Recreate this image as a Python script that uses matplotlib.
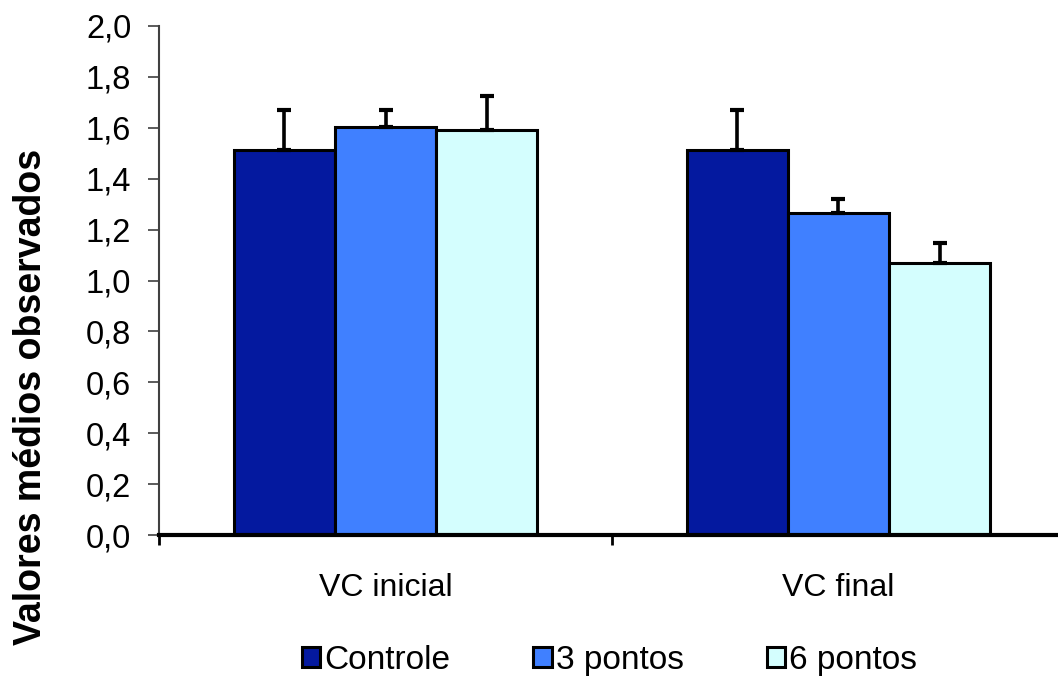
import matplotlib
matplotlib.use("Agg")
import matplotlib.pyplot as plt
import numpy as np

# data
categorias = ["VC inicial", "VC final"]
grupos = ["Controle", "3 pontos", "6 pontos"]
medias = {
    "Controle": [1.513, 1.513],
    "3 pontos": [1.603, 1.266],
    "6 pontos": [1.591, 1.070],
}
erros = {
    "Controle": [0.155, 0.155],
    "3 pontos": [0.067, 0.054],
    "6 pontos": [0.134, 0.076],
}
cores = ["#04199F", "#4080FF", "#D4FEFE"]

plt.rcParams['font.family'] = ['Liberation Sans', 'DejaVu Sans']

fig = plt.figure(figsize=(10.58, 6.77), dpi=100)
ax = fig.add_axes([0.1503, 0.2097, 0.8563, 0.7519])

x = np.arange(len(categorias))
largura = 0.223
handles = []
for i, g in enumerate(grupos):
    pos = x + (i - 1) * largura
    b = ax.bar(pos, medias[g], largura, color=cores[i], edgecolor="black",
               linewidth=2.2, zorder=2)
    ax.errorbar(pos, medias[g], yerr=[np.zeros(len(categorias)), erros[g]],
                fmt="none", ecolor="black", elinewidth=2.6, capsize=5,
                capthick=3, zorder=3)
    handles.append(b)

ax.set_xlim(-0.5, 1.5)
ax.set_ylim(0, 2.0)
ax.set_yticks(np.arange(0, 2.01, 0.2))
ax.set_yticklabels([f"{v:.1f}".replace(".", ",") for v in np.arange(0, 2.01, 0.2)])

ax.set_xticks(x)
ax.set_xticklabels(categorias)
ax.set_xticks([-0.5, 0.5, 1.5], minor=True)
ax.tick_params(axis="x", which="major", length=0, pad=27, labelsize=23)
ax.tick_params(axis="x", which="minor", length=7, width=2, color="black",
               direction="out")
ax.tick_params(axis="y", length=8, width=1.2, color="#404040", pad=12,
               labelsize=23.5)

for s in ["top", "right"]:
    ax.spines[s].set_visible(False)
ax.spines["left"].set_color("#404040")
ax.spines["left"].set_linewidth(1.5)
ax.spines["bottom"].set_color("black")
ax.spines["bottom"].set_linewidth(3)
ax.spines["bottom"].set_zorder(4)

fig.text(0.029, 0.413, "Valores médios observados", rotation=90,
         ha="center", va="center", fontsize=27, fontweight="bold")

fig.legend(handles, grupos, loc="center", bbox_to_anchor=(0.576, 0.025),
           ncol=3, frameon=False, fontsize=24, handlelength=0.55,
           handleheight=0.55, handletextpad=0.12, columnspacing=2.5,
           borderpad=0, borderaxespad=0)

fig.savefig("out.png", dpi=100)
